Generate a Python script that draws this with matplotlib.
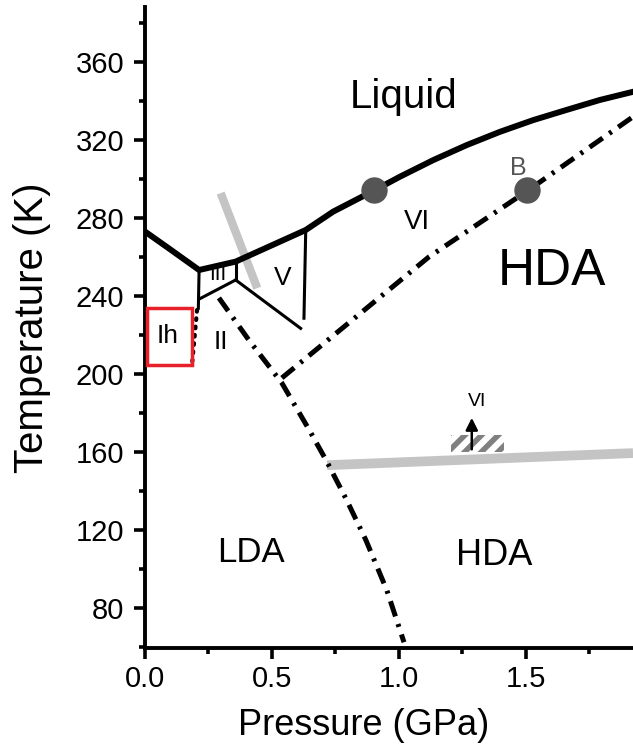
import matplotlib
matplotlib.use('Agg')
import matplotlib.pyplot as plt
from matplotlib.patches import Rectangle
from matplotlib.ticker import MultipleLocator

plt.rcParams['font.family'] = ['Liberation Sans', 'DejaVu Sans']
plt.rcParams['hatch.linewidth'] = 4

# melting line (P in GPa, T in K)
melt_p = [0.0, 0.10, 0.213, 0.357, 0.633, 0.741, 0.906, 1.004, 1.135, 1.267, 1.398, 1.529, 1.660, 1.791, 1.922]
melt_t = [273.0, 263.8, 253.3, 257.6, 273.8, 283.2, 294.3, 301.1, 309.6, 317.3, 324.1, 330.1, 335.3, 340.4, 344.6]

# ice III box and V boundaries
iii_left_p = [0.213, 0.210]
iii_left_t = [253.3, 233.7]
iii_bot_p = [0.219, 0.357]
iii_bot_t = [238.8, 248.2]
iii_right_p = [0.357, 0.357]
iii_right_t = [257.6, 248.2]
v_low_p = [0.357, 0.613]
v_low_t = [248.2, 223.4]
v_vi_p = [0.633, 0.626]
v_vi_t = [273.8, 228.6]

# Ih / II dotted boundary
ih_p = [0.205, 0.185]
ih_t = [232.8, 204.6]

# LDA / HDA dash-dot lines
lda_p = [0.291, 0.409, 0.539, 0.643, 0.713, 0.794, 0.870, 0.952, 1.020]
lda_t = [239.0, 217.4, 195.4, 172.2, 155.9, 135.5, 114.9, 89.4, 62.6]
hda_p = [0.539, 0.763, 1.118, 1.512, 1.922]
hda_t = [198.0, 222.0, 260.0, 294.4, 331.8]

# grey lines
grey1_p = [0.298, 0.442]
grey1_t = [292.7, 244.0]
grey2_p = [0.717, 1.922]
grey2_t = [153.3, 159.5]

# points
dot_p = [0.902, 1.505]
dot_t = [294.4, 294.4]

xticks = [0.0, 0.5, 1.0, 1.5]
yticks = [80, 120, 160, 200, 240, 280, 320, 360]

fig = plt.figure(figsize=(6.33, 7.52), dpi=100)
ax = fig.add_axes([0.2291, 0.1379, 0.7709, 0.8532])

ax.plot(grey1_p, grey1_t, color='#c4c4c4', lw=6, solid_capstyle='butt', zorder=1)
ax.plot(grey2_p, grey2_t, color='#c4c4c4', lw=7, solid_capstyle='butt', zorder=1)

ax.plot(melt_p, melt_t, color='k', lw=4.3, zorder=3)
for px, ty in [(iii_left_p, iii_left_t), (iii_bot_p, iii_bot_t), (iii_right_p, iii_right_t),
               (v_low_p, v_low_t), (v_vi_p, v_vi_t)]:
    ax.plot(px, ty, color='k', lw=2.2, zorder=3)

ax.plot(ih_p, ih_t, color='k', lw=3, ls=(0, (0.4, 1.6)), dash_capstyle='round', zorder=3)
ax.plot(lda_p, lda_t, color='k', lw=3.6, ls=(0, (3.2, 1.6, 0.6, 1.6)), zorder=3)
ax.plot(hda_p, hda_t, color='k', lw=3.6, ls=(0, (3.2, 1.6, 0.6, 1.6)), zorder=3)

ax.plot(dot_p, dot_t, 'o', ms=18, mfc='#555555', mec='#555555', zorder=4)

# hatched patch and arrow
ax.add_patch(Rectangle((1.205, 160.0), 0.208, 8.7, fill=False, hatch='//',
                       edgecolor='#808080', lw=0, zorder=2))
ax.annotate('', xy=(1.287, 179), xytext=(1.287, 160),
            arrowprops=dict(arrowstyle='-|>', color='k', lw=1.8, mutation_scale=18), zorder=5)
ax.text(1.307, 186, 'VI', fontsize=14, ha='center', va='center')

# labels
ax.text(1.020, 342, 'Liquid', fontsize=29, ha='center', va='center')
ax.text(1.071, 278, 'VI', fontsize=20, ha='center', va='center')
ax.text(1.602, 252.3, 'HDA', fontsize=37, ha='center', va='center')
ax.text(0.543, 249.2, 'V', fontsize=19, ha='center', va='center')
ax.text(0.288, 251.0, 'III', fontsize=15, ha='center', va='center')
ax.text(0.299, 216.4, 'II', fontsize=19, ha='center', va='center')
ax.text(0.091, 219.5, 'Ih', fontsize=19, ha='center', va='center')
ax.text(0.417, 108.7, 'LDA', fontsize=25, ha='center', va='center')
ax.text(1.374, 107.2, 'HDA', fontsize=26, ha='center', va='center')
ax.text(1.472, 305.6, 'B', fontsize=18, color='#555555', ha='center', va='center')

ax.add_patch(Rectangle((0.007, 204.6), 0.177, 29.1, fill=False, edgecolor='#e8202a',
                       lw=2.5, zorder=5))

ax.set_xlim(0, 1.922)
ax.set_ylim(59.5, 388.2)
ax.set_xticks(xticks)
ax.set_yticks(yticks)
ax.xaxis.set_minor_locator(MultipleLocator(0.25))
ax.yaxis.set_minor_locator(MultipleLocator(20))
ax.xaxis.set_major_formatter(plt.FuncFormatter(lambda v, p: '%.1f' % v))

for s in ['top', 'right']:
    ax.spines[s].set_visible(False)
for s in ['left', 'bottom']:
    ax.spines[s].set_linewidth(2.8)
ax.tick_params(which='major', direction='out', length=8, width=2.6, labelsize=21)
ax.tick_params(which='minor', direction='out', length=4.5, width=2.6)
ax.tick_params(axis='y', which='major', pad=7)
ax.tick_params(axis='x', which='major', pad=4)

ax.set_xlabel('Pressure (GPa)', fontsize=26)
ax.set_ylabel('Temperature (K)', fontsize=29)
ax.xaxis.set_label_coords(0.449, -0.093)
ax.yaxis.set_label_coords(-0.193, 0.5)

plt.savefig('out.png', dpi=100)
plt.close()
